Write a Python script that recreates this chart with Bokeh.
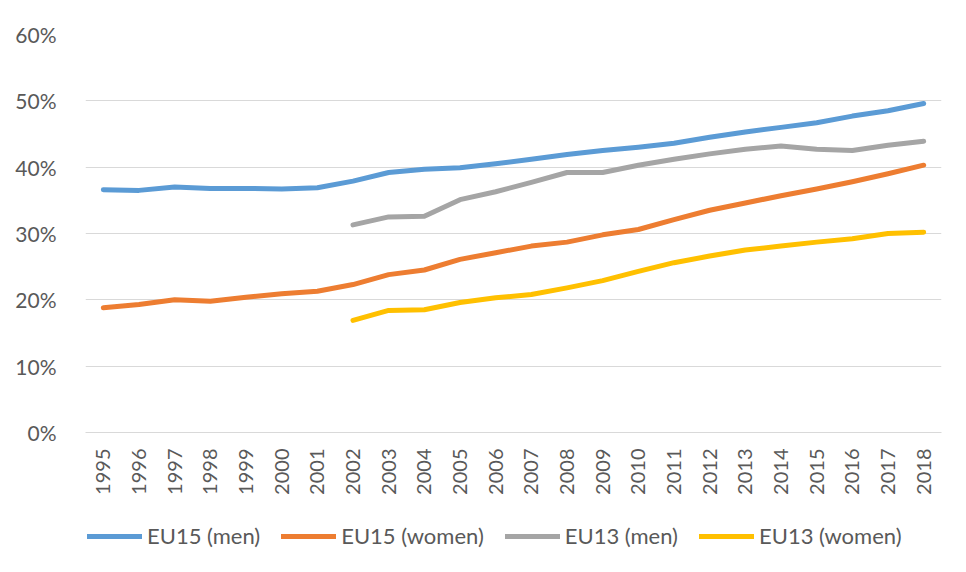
from bokeh.plotting import figure
from bokeh.models import Range1d, FactorRange, NumeralTickFormatter, Legend, LegendItem, FixedTicker
from bokeh.layouts import column
from bokeh.embed import file_html
from bokeh.resources import INLINE
import math

years = [str(y) for y in range(1995, 2019)]
years_eu13 = [str(y) for y in range(2002, 2019)]

eu15_men = [36.6, 36.5, 37.0, 36.8, 36.8, 36.7, 36.9, 37.9, 39.2, 39.7, 39.9, 40.5, 41.2,
            41.9, 42.5, 43.0, 43.6, 44.5, 45.3, 46.0, 46.7, 47.7, 48.5, 49.6]
eu15_women = [18.8, 19.3, 20.0, 19.8, 20.4, 20.9, 21.3, 22.3, 23.8, 24.5, 26.1, 27.1, 28.1,
              28.7, 29.8, 30.6, 32.1, 33.5, 34.6, 35.7, 36.7, 37.8, 39.0, 40.3]
eu13_men = [31.3, 32.5, 32.6, 35.1, 36.3, 37.7, 39.2, 39.2, 40.3, 41.2, 42.0, 42.7, 43.2,
            42.7, 42.5, 43.3, 43.9]
eu13_women = [16.9, 18.4, 18.5, 19.6, 20.3, 20.8, 21.8, 22.9, 24.3, 25.6, 26.6, 27.5, 28.1,
              28.7, 29.2, 30.0, 30.2]

y_ticks = [0, 0.1, 0.2, 0.3, 0.4, 0.5, 0.6]

series = [
    ("EU15 (men)", years, eu15_men, "#5B9BD5"),
    ("EU15 (women)", years, eu15_women, "#ED7D31"),
    ("EU13 (men)", years_eu13, eu13_men, "#A5A5A5"),
    ("EU13 (women)", years_eu13, eu13_women, "#FFC000"),
]

FONT = "Lato"
TXT = "#595959"
GRID = "#d9d9d9"

# main chart
p = figure(width=966, height=500, output_backend="svg", toolbar_location=None,
           x_range=FactorRange(factors=years, range_padding=0),
           y_range=Range1d(0, 0.6),
           min_border_left=85, min_border_right=25, min_border_top=34, min_border_bottom=68)
p.outline_line_color = None
p.background_fill_color = "white"
p.border_fill_color = "white"

for name, xs, vals, col in series:
    p.line(xs, [v / 100 for v in vals], line_color=col, line_width=5,
           line_cap="round", line_join="round")

p.yaxis.ticker = FixedTicker(ticks=y_ticks)
p.yaxis.formatter = NumeralTickFormatter(format="0%")
p.yaxis.axis_line_color = None
p.yaxis.major_tick_line_color = None
p.yaxis.minor_tick_line_color = None
p.yaxis.major_label_standoff = 23
p.yaxis.major_label_text_font = FONT
p.yaxis.major_label_text_font_size = "21px"
p.yaxis.major_label_text_color = TXT

p.xaxis.axis_line_color = GRID
p.xaxis.axis_line_width = 1
p.xaxis.major_tick_line_color = None
p.xaxis.minor_tick_line_color = None
p.xaxis.major_label_orientation = math.pi / 2
p.xaxis.major_label_standoff = 10
p.xaxis.major_label_text_font = FONT
p.xaxis.major_label_text_font_size = "20px"
p.xaxis.major_label_text_color = TXT

p.xgrid.grid_line_color = None
p.ygrid.grid_line_color = GRID
p.ygrid.grid_line_width = 1

# legend strip (series drawn out of view; only the legend shows)
q = figure(width=966, height=72, output_backend="svg", toolbar_location=None,
           x_range=FactorRange(factors=years, range_padding=0), y_range=Range1d(5, 6),
           x_axis_location=None, y_axis_location=None,
           min_border_left=85, min_border_right=25, min_border_top=0, min_border_bottom=0)
q.outline_line_color = None
q.grid.grid_line_color = None
q.background_fill_color = "white"
q.border_fill_color = "white"

items = []
for name, xs, vals, col in series:
    r = q.line(xs, [v / 100 for v in vals], line_color=col, line_width=5, line_cap="round")
    items.append(LegendItem(label=name, renderers=[r]))

legend = Legend(items=items, orientation="horizontal", location=(2, 23))
legend.label_text_font = FONT
legend.label_text_font_size = "22px"
legend.label_text_color = TXT
legend.glyph_width = 55
legend.glyph_height = 20
legend.label_standoff = 5
legend.spacing = 21
legend.padding = 0
legend.margin = 0
legend.border_line_color = None
legend.background_fill_alpha = 0
q.add_layout(legend, "center")

layout = column(p, q, spacing=0)
open("out.html", "w").write(file_html(layout, INLINE))
